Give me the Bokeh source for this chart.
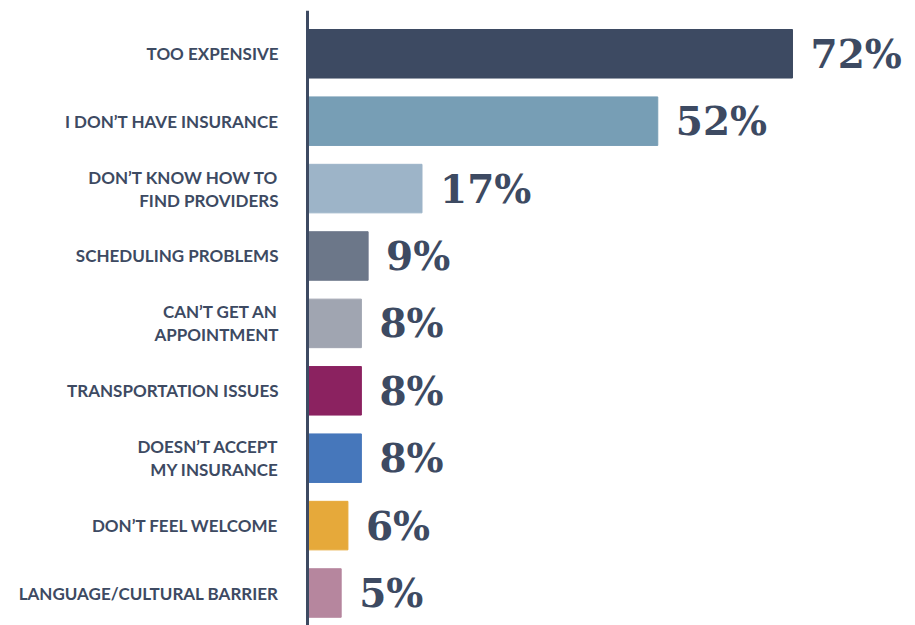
from bokeh.plotting import figure
from bokeh.models import Range1d, Span, ColumnDataSource
from bokeh.core.properties import value
from bokeh.embed import file_html
from bokeh.resources import INLINE

categories = [
    "TOO EXPENSIVE",
    "I DON\u2019T HAVE INSURANCE",
    "DON\u2019T KNOW HOW TO\nFIND PROVIDERS",
    "SCHEDULING PROBLEMS",
    "CAN\u2019T GET AN\nAPPOINTMENT",
    "TRANSPORTATION ISSUES",
    "DOESN\u2019T ACCEPT\nMY INSURANCE",
    "DON\u2019T FEEL WELCOME",
    "LANGUAGE/CULTURAL BARRIER",
]
percents = [72, 52, 17, 9, 8, 8, 8, 6, 5]
colors = ["#3d4a62", "#779eb5", "#9db4c8", "#6c7789", "#a0a5b1",
          "#8b2260", "#4677bb", "#e6a93a", "#b6869e"]

TEXT = "#3d4a62"
n = len(categories)
ypos = list(range(n))
src = ColumnDataSource(dict(
    y=ypos, v=percents, c=colors, cat=categories,
    lab=[f"{p}%" for p in percents], zero=[0] * n,
))

W, H = 915, 625
px_per = 6.736
left_px = 307
p = figure(width=W, height=H, output_backend="svg", toolbar_location=None,
           x_range=Range1d(-left_px / px_per, (W - left_px) / px_per),
           y_range=Range1d(n - 1 + 0.482, -0.642),
           min_border=0, min_border_top=10, outline_line_color=None)
p.axis.visible = False
p.grid.visible = False
p.background_fill_color = "white"
p.border_fill_color = "white"

p.hbar(y="y", left=0, right="v", height=0.72, color="c", source=src)
p.add_layout(Span(location=0, dimension="height", line_color=TEXT, line_width=3))

p.text(x="zero", y="y", text="cat", source=src, x_offset=-29,
       text_align="right", text_baseline="middle",
       text_font=value("Lato"), text_font_style="bold", text_font_size="17px",
       text_color=TEXT, text_line_height=1.1)
p.text(x="v", y="y", text="lab", source=src, x_offset=18,
       text_align="left", text_baseline="middle",
       text_font=value("DejaVu Serif"), text_font_style="bold", text_font_size="39px",
       text_color=TEXT)

open("out.html", "w").write(file_html(p, INLINE))
